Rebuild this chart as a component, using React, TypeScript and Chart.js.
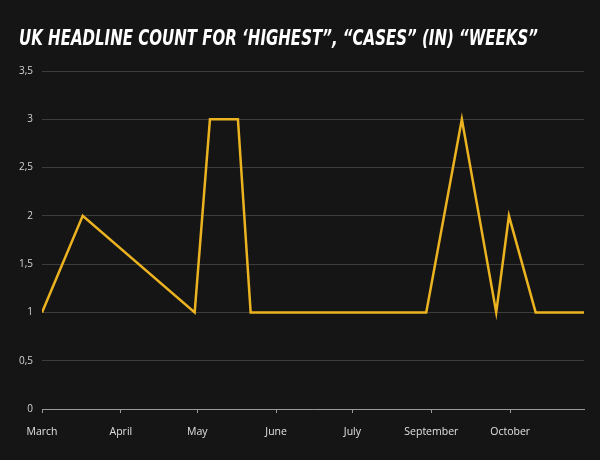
import { useEffect, useRef } from 'react';
import { Chart, registerables } from 'chart.js';

Chart.register(...registerables);

const TITLE = 'UK HEADLINE COUNT FOR ‘HIGHEST”, “CASES” (IN) “WEEKS”';
const monthLabels = ['March', 'April', 'May', 'June', 'July', 'September', 'October'];
const monthTickDays = [0, 31, 61, 92, 122, 153, 184];
const pointDays = [0, 16, 60, 66, 77, 82, 151, 165, 178.5, 183.5, 194, 213];
const headlineCounts = [1, 2, 1, 3, 3, 1, 1, 3, 1, 2, 1, 1];
const xMaxDay = 213;
const yTicks = [0, 0.5, 1, 1.5, 2, 2.5, 3, 3.5];

const BG = '#151515';

const bgPlugin = {
  id: 'bgFill',
  beforeDraw(chart: any) {
    const { ctx, width, height } = chart;
    ctx.save();
    ctx.fillStyle = BG;
    ctx.fillRect(0, 0, width, height);
    ctx.restore();
  },
};

const titlePlugin = {
  id: 'fitTitle',
  afterDraw(chart: any) {
    const ctx = chart.ctx;
    ctx.save();
    ctx.font = "italic bold 21px 'Liberation Sans Narrow', 'DejaVu Sans Condensed', 'DejaVu Sans', sans-serif";
    ctx.fillStyle = '#ffffff';
    ctx.textBaseline = 'alphabetic';
    ctx.textAlign = 'left';
    const w = ctx.measureText(TITLE).width;
    const sx = 519 / w;
    ctx.translate(19, 45);
    ctx.scale(sx, 1);
    ctx.fillText(TITLE, 0, 0);
    ctx.restore();
  },
};

export default function App() {
  const ref = useRef<HTMLCanvasElement>(null);

  useEffect(() => {
    document.body.style.margin = '0';
    document.body.style.background = BG;
    if (!ref.current) return;
    const chart = new Chart(ref.current, {
      type: 'line',
      data: {
        datasets: [
          {
            label: 'Headlines',
            data: pointDays.map((d, i) => ({ x: d, y: headlineCounts[i] })),
            borderColor: '#ECB321',
            borderWidth: 2.5,
            pointRadius: 0,
            tension: 0,
            fill: false,
          },
        ],
      },
      options: {
        animation: false,
        responsive: false,
        layout: { padding: { top: 71, right: 16, bottom: 0, left: 0 } },
        plugins: {
          legend: { display: false },
          title: { display: false },
          tooltip: { enabled: false },
        },
        scales: {
          x: {
            type: 'linear',
            min: 0,
            max: xMaxDay,
            afterBuildTicks: (scale: any) => {
              scale.ticks = monthTickDays.map((v) => ({ value: v }));
            },
            afterFit: (scale: any) => {
              scale.height = 51;
            },
            ticks: {
              autoSkip: false,
              maxRotation: 0,
              padding: 13,
              color: '#e0e0e0',
              font: { family: "'Open Sans', sans-serif", size: 10.5 },
              callback: (_v: any, i: number) => monthLabels[i] ?? '',
            },
            grid: {
              drawOnChartArea: false,
              drawTicks: true,
              tickLength: 4,
              color: '#9a9a9a',
            },
            border: { display: true, color: '#9a9a9a', width: 1 },
          },
          y: {
            min: 0,
            max: 3.5,
            afterBuildTicks: (scale: any) => {
              scale.ticks = yTicks.map((v) => ({ value: v }));
            },
            afterFit: (scale: any) => {
              scale.width = 42;
            },
            ticks: {
              padding: 9,
              color: '#d4d4d4',
              font: { family: "'Open Sans', sans-serif", size: 10 },
              callback: (v: any) => String(v).replace('.', ','),
            },
            grid: { color: '#3c3c3c', drawTicks: false, lineWidth: 1 },
            border: { display: false },
          },
        },
      },
      plugins: [bgPlugin, titlePlugin],
    });
    return () => chart.destroy();
  }, []);

  return (
    <div style={{ width: 600, height: 460, background: BG }}>
      <canvas ref={ref} width={600} height={460} style={{ display: 'block' }} />
    </div>
  );
}
